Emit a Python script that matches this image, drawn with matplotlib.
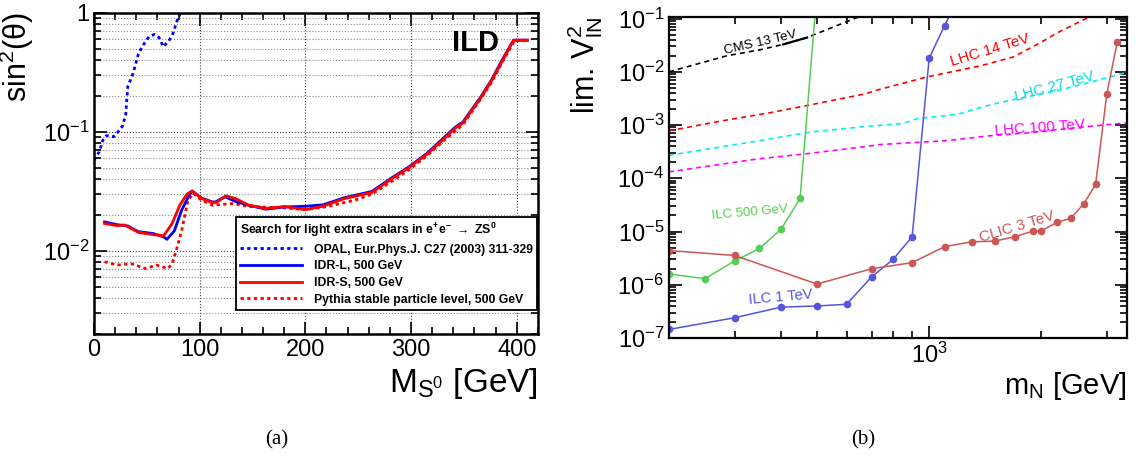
import numpy as np
import matplotlib
matplotlib.use("Agg")
import matplotlib.pyplot as plt
from matplotlib.ticker import (LogLocator, MultipleLocator, FuncFormatter,
                               NullFormatter, LogFormatterSciNotation)

plt.rcParams['font.family'] = ['Liberation Sans', 'DejaVu Sans']
plt.rcParams['mathtext.default'] = 'regular'

# ---- panel (a): sin^2(theta) limits vs M_S0 ----
opal_m = [0, 5, 8.4, 11.8, 18.5, 22, 27, 30, 32, 37, 42, 45.5, 52, 57,
          61.6, 65.6, 70.7, 75, 79, 82, 84]
opal_v = [0.058, 0.068, 0.085, 0.093, 0.091, 0.098, 0.112, 0.138, 0.24,
          0.31, 0.45, 0.52, 0.63, 0.66, 0.62, 0.52, 0.58, 0.68, 0.88, 1.0, 1.12]

idrl_m = [10, 22, 32, 42, 56, 66, 69, 76, 83, 90, 93, 102, 112, 115, 124,
          134, 146, 163, 180, 200, 217, 237, 263, 281, 298, 315, 332, 342,
          349, 366, 376, 386, 397, 410]
idrl_v = [0.0175, 0.0166, 0.0162, 0.0145, 0.0140, 0.0131, 0.0125, 0.0147,
          0.022, 0.0294, 0.0316, 0.0277, 0.0258, 0.0258, 0.0285, 0.026,
          0.0242, 0.0224, 0.0234, 0.0237, 0.0244, 0.028, 0.0316, 0.0407,
          0.0508, 0.066, 0.091, 0.110, 0.121, 0.197, 0.272, 0.40, 0.59, 0.59]

idrs_m = [10, 22, 29, 42, 56, 66, 74, 81, 88, 93, 102, 112, 116, 125, 134,
          146, 163, 180, 200, 217, 237, 263, 281, 298, 315, 332, 342, 349,
          366, 376, 386, 397, 410]
idrs_v = [0.017, 0.0163, 0.0165, 0.0143, 0.0137, 0.0134, 0.017, 0.024,
          0.030, 0.032, 0.0275, 0.0255, 0.0256, 0.029, 0.0275, 0.0243,
          0.0227, 0.0236, 0.0222, 0.0238, 0.0275, 0.031, 0.040, 0.050,
          0.065, 0.089, 0.108, 0.119, 0.194, 0.268, 0.39, 0.59, 0.59]

pythia_m = [10, 22, 35, 49, 59, 70, 74, 78, 83, 89, 94, 101, 112, 132, 146,
            180, 200, 220, 247, 263, 281, 298, 315, 332, 349, 366, 376, 388,
            398, 410]
pythia_v = [0.0081, 0.0076, 0.0078, 0.0071, 0.0076, 0.0071, 0.0078, 0.0102,
            0.0148, 0.0267, 0.0305, 0.027, 0.0242, 0.025, 0.0236, 0.023,
            0.0222, 0.0235, 0.0267, 0.030, 0.038, 0.048, 0.063, 0.086, 0.115,
            0.19, 0.26, 0.41, 0.59, 0.59]

legend_labels = ['OPAL, Eur.Phys.J. C27 (2003) 311-329', 'IDR-L, 500 GeV',
                 'IDR-S, 500 GeV', 'Pythia stable particle level, 500 GeV']

# ---- panel (b): |V_lN|^2 limits vs m_N ----
ilc500_m = [200, 250, 300, 350, 400, 450, 500]
ilc500_v = [1.6e-6, 1.3e-6, 2.8e-6, 4.8e-6, 1.1e-5, 4.2e-5, 0.35]

ilc1_m = [200, 300, 400, 500, 600, 700, 800, 900, 1000, 1100, 1200]
ilc1_v = [1.45e-7, 2.4e-7, 3.8e-7, 4.0e-7, 4.3e-7, 1.4e-6, 3.0e-6, 8e-6,
          1.8e-2, 7.4e-2, 0.25]

clic_m = [200, 300, 500, 700, 900, 1100, 1300, 1500, 1700, 1900, 2000,
          2200, 2400, 2600, 2800, 3000, 3200]
clic_v = [4.4e-6, 3.55e-6, 1.03e-6, 2.0e-6, 2.6e-6, 5.2e-6, 6.4e-6, 6.6e-6,
          8.0e-6, 1.02e-5, 1.02e-5, 1.48e-5, 1.77e-5, 3.3e-5, 7.7e-5,
          3.8e-3, 3.6e-2]

cms13_m = [200, 286, 352, 405, 470, 560, 652, 700]
cms13_v = [1.0e-2, 2.0e-2, 2.6e-2, 3.27e-2, 4.4e-2, 7.2e-2, 0.110, 0.13]
cms13_solid_m = [405, 470]
cms13_solid_v = [3.27e-2, 4.4e-2]

lhc14_m = [200, 278, 380, 480, 667, 738, 993, 1371, 1682, 1987, 2208, 2710,
           3000]
lhc14_v = [7.8e-4, 1.2e-3, 1.74e-3, 2.4e-3, 3.8e-3, 4.7e-3, 8.1e-3, 1.29e-2,
           1.9e-2, 3.5e-2, 5.4e-2, 0.110, 0.16]

lhc27_m = [200, 345, 480, 667, 850, 930, 1187, 1459, 1792, 2204, 2825, 3400]
lhc27_v = [2.7e-4, 5.0e-4, 7.4e-4, 9.3e-4, 1.07e-3, 1.32e-3, 1.58e-3,
           2.4e-3, 3.3e-3, 4.4e-3, 6.9e-3, 9.8e-3]

lhc100_m = [200, 345, 480, 667, 738, 1116, 1459, 1867, 2547, 3400]
lhc100_v = [1.32e-4, 2.3e-4, 2.95e-4, 3.9e-4, 4.3e-4, 5.1e-4, 6.3e-4,
            7.2e-4, 9.1e-4, 1.1e-3]

fig = plt.figure(figsize=(11.36, 4.62), dpi=100)

# ================= panel (a) =================
ax1 = fig.add_axes([0.0827, 0.277, 0.3908, 0.695])
dots = (0, (1.2, 1.2))
ax1.plot(opal_m, opal_v, color='#0000ff', lw=2.0, ls=dots)
ax1.plot(pythia_m, pythia_v, color='#ff0000', lw=2.0, ls=dots)
ax1.plot(idrl_m, idrl_v, color='#0000ff', lw=2.0)
ax1.plot(idrs_m, idrs_v, color='#ff0000', lw=2.0)

ax1.set_yscale('log')
ax1.set_xlim(0, 420)
ax1.set_ylim(0.002, 1)
ax1.xaxis.set_major_locator(MultipleLocator(100))
ax1.xaxis.set_minor_locator(MultipleLocator(20))
ax1.yaxis.set_major_locator(LogLocator(base=10, numticks=10))
ax1.yaxis.set_minor_locator(LogLocator(base=10, subs=np.arange(2, 10), numticks=20))
ax1.yaxis.set_minor_formatter(NullFormatter())
ax1.yaxis.set_major_formatter(FuncFormatter(
    lambda v, p: '1' if abs(v - 1) < 1e-9 else r'$10^{%d}$' % round(np.log10(v))))
ax1.tick_params(which='both', direction='in', top=True, right=True,
                labelsize=17, width=1.2)
ax1.tick_params(which='major', length=9)
ax1.tick_params(which='minor', length=5)
ax1.grid(which='major', ls=':', color='0.25', lw=0.8)
ax1.grid(which='minor', axis='y', ls=':', color='0.55', lw=0.8)
for s in ax1.spines.values():
    s.set_linewidth(1.8)

ax1.set_ylabel(r'sin$^{2}$(θ)', fontsize=22, loc='top')
ax1.yaxis.set_label_coords(-0.13, 1.0)
ax1.set_xlabel(r'M$_{S^{0}}$ [GeV]', fontsize=24, loc='right')
ax1.xaxis.set_label_coords(1.0, -0.10)
ax1.text(0.86, 0.905, 'ILD', transform=ax1.transAxes, fontsize=21,
         fontweight='bold', ha='center', va='center')

h_opal, = ax1.plot([], [], color='#0000ff', lw=2.0, ls=dots)
h_l, = ax1.plot([], [], color='#0000ff', lw=2.0)
h_s, = ax1.plot([], [], color='#ff0000', lw=2.0)
h_p, = ax1.plot([], [], color='#ff0000', lw=2.0, ls=dots)
leg = ax1.legend([h_opal, h_l, h_s, h_p], legend_labels,
                 title=r'Search for light extra scalars in e$^{+}$e$^{-}$ $\rightarrow$ ZS$^{0}$',
                 loc='lower right', bbox_to_anchor=(0.998, 0.075),
                 borderaxespad=0,
                 prop={'weight': 'bold', 'size': 8.8},
                 title_fontproperties={'weight': 'bold', 'size': 8.8},
                 alignment='left', handlelength=5.0, handletextpad=1.0,
                 labelspacing=0.38, borderpad=0.35, fancybox=False,
                 framealpha=1, edgecolor='black')
leg.get_frame().set_linewidth(1.3)

# ================= panel (b) =================
ax2 = fig.add_axes([0.5889, 0.2684, 0.4032, 0.6948])
dash = (0, (3, 2.5))
ax2.plot(cms13_m, cms13_v, color='black', lw=1.2, ls=dash)
ax2.plot(cms13_solid_m, cms13_solid_v, color='black', lw=1.6)
ax2.plot(lhc14_m, lhc14_v, color='#ff0000', lw=1.2, ls=dash)
ax2.plot(lhc27_m, lhc27_v, color='#00f0f0', lw=1.2, ls=dash)
ax2.plot(lhc100_m, lhc100_v, color='#ff00ff', lw=1.2, ls=dash)

ax2.plot(ilc500_m, ilc500_v, color='#55cc55', lw=1.1, marker='o', ms=4.5)
ax2.plot(ilc1_m, ilc1_v, color='#5555dd', lw=1.1, marker='o', ms=4.5)
ax2.plot(clic_m, clic_v, color='#cc5555', lw=1.1, marker='o', ms=4.5)

ax2.set_xscale('log')
ax2.set_yscale('log')
ax2.set_xlim(200, 3400)
ax2.set_ylim(1e-7, 0.107)
ax2.xaxis.set_major_locator(LogLocator(base=10, numticks=10))
ax2.xaxis.set_major_formatter(LogFormatterSciNotation())
ax2.xaxis.set_minor_locator(LogLocator(base=10, subs=np.arange(2, 10), numticks=20))
ax2.xaxis.set_minor_formatter(NullFormatter())
ax2.yaxis.set_major_locator(LogLocator(base=10, numticks=12))
ax2.yaxis.set_minor_locator(LogLocator(base=10, subs=np.arange(2, 10), numticks=30))
ax2.yaxis.set_minor_formatter(NullFormatter())
ax2.tick_params(which='both', direction='in', top=True, right=True,
                labelsize=17, width=1.2)
ax2.tick_params(which='major', length=9)
ax2.tick_params(which='minor', length=5)
for s in ax2.spines.values():
    s.set_linewidth(1.6)

ax2.set_ylabel(r'lim. V$^{2}_{lN}$', fontsize=22, loc='top')
ax2.yaxis.set_label_coords(-0.14, 1.0)
ax2.set_xlabel(r'm$_{N}$ [GeV]', fontsize=21, loc='right')
ax2.xaxis.set_label_coords(1.0, -0.10)

# curve labels, placed in figure pixels
labels = [('CMS 13 TeV', 760, 43, 13, 'black', 9.5),
          ('LHC 14 TeV', 990, 50, 17, '#ff0000', 11),
          ('LHC 27 TeV', 1055, 87, 15, '#00e0e0', 11),
          ('LHC 100 TeV', 1040, 128, 4, '#ff00ff', 11),
          ('ILC 500 GeV', 750, 213, 5, '#55cc55', 9.5),
          ('ILC 1 TeV', 781, 297, 5, '#5555dd', 10.5),
          ('CLIC 3 TeV', 1017, 227, 17, '#cc5555', 11)]
for t, px, py, rot, c, fs in labels:
    fig.text(px / 1136, 1 - py / 462, t, fontsize=fs, rotation=rot,
             color=c, ha='center', va='center', rotation_mode='anchor')

fig.text(277 / 1136, 1 - 440 / 462, '(a)', fontsize=15,
         family='Liberation Serif', ha='center', va='center')
fig.text(863 / 1136, 1 - 440 / 462, '(b)', fontsize=15,
         family='Liberation Serif', ha='center', va='center')

fig.savefig('out.png', dpi=100)
